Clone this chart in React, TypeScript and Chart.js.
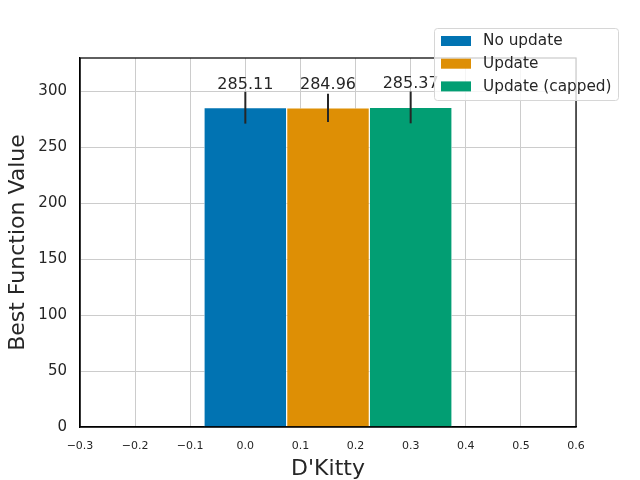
import React, { useEffect, useRef } from "react";
import { Chart, registerables } from "chart.js";

Chart.register(...registerables);

const seriesNames = ["No update", "Update", "Update (capped)"];
const xPositions = [0.0, 0.15, 0.3];
const bestValues = [285.11, 284.96, 285.37];
const stdValues = [14.2, 12.6, 14.2];
const barColors = ["#0173b2", "#de8f05", "#029e73"];
const xTitle = "D'Kitty";
const yTitle = "Best Function Value";

const FONT = "'DejaVu Sans', sans-serif";
const TEXT = "#262626";

const fmtX = (v: number) => {
  if (Math.abs(v) < 1e-9) return "0.0";
  const s = v.toFixed(1);
  return s.replace("-", "\u2212");
};

const overlayPlugin = {
  id: "overlay",
  afterDatasetsDraw(chart: any) {
    const { ctx, chartArea, scales } = chart;
    const xs = scales.x;
    const ys = scales.y;
    ctx.save();
    ctx.strokeStyle = TEXT;
    ctx.lineWidth = 2;
    for (let i = 0; i < bestValues.length; i++) {
      const px = xs.getPixelForValue(xPositions[i]);
      const top = ys.getPixelForValue(bestValues[i] + stdValues[i]);
      const bot = ys.getPixelForValue(bestValues[i] - stdValues[i]);
      ctx.beginPath();
      ctx.moveTo(px, top);
      ctx.lineTo(px, bot);
      ctx.stroke();
    }
    ctx.strokeStyle = "#000000";
    ctx.lineWidth = 1.25;
    ctx.strokeRect(
      chartArea.left,
      chartArea.top,
      chartArea.right - chartArea.left,
      chartArea.bottom - chartArea.top
    );
    ctx.fillStyle = TEXT;
    ctx.font = `16px ${FONT}`;
    ctx.textAlign = "center";
    ctx.textBaseline = "alphabetic";
    for (let i = 0; i < bestValues.length; i++) {
      const px = xs.getPixelForValue(xPositions[i]);
      const py = ys.getPixelForValue(bestValues[i] * 1.06);
      ctx.fillText(bestValues[i].toFixed(2), px, py);
    }
    ctx.restore();
  },
  afterDraw(chart: any) {
    const { ctx } = chart;
    ctx.save();
    const bx = 434.5, by = 28.5, bw = 184, bh = 72, r = 3;
    ctx.beginPath();
    ctx.moveTo(bx + r, by);
    ctx.lineTo(bx + bw - r, by);
    ctx.arcTo(bx + bw, by, bx + bw, by + r, r);
    ctx.lineTo(bx + bw, by + bh - r);
    ctx.arcTo(bx + bw, by + bh, bx + bw - r, by + bh, r);
    ctx.lineTo(bx + r, by + bh);
    ctx.arcTo(bx, by + bh, bx, by + bh - r, r);
    ctx.lineTo(bx, by + r);
    ctx.arcTo(bx, by, bx + r, by, r);
    ctx.closePath();
    ctx.fillStyle = "rgba(255,255,255,0.8)";
    ctx.fill();
    ctx.strokeStyle = "#d6d6d6";
    ctx.lineWidth = 1;
    ctx.stroke();
    ctx.font = `15.3px ${FONT}`;
    ctx.textAlign = "left";
    ctx.textBaseline = "middle";
    for (let i = 0; i < seriesNames.length; i++) {
      const cy = 41 + i * 22.7;
      ctx.fillStyle = barColors[i];
      ctx.fillRect(441, cy - 5, 30, 10);
      ctx.fillStyle = TEXT;
      ctx.fillText(seriesNames[i], 483, cy + 0.5);
    }
    ctx.restore();
  },
};

export default function App() {
  const ref = useRef<HTMLCanvasElement>(null);
  useEffect(() => {
    if (!ref.current) return;
    const chart = new Chart(ref.current, {
      type: "bar",
      data: {
        datasets: seriesNames.map((name, i) => ({
          label: name,
          data: [{ x: xPositions[i], y: bestValues[i] }],
          backgroundColor: barColors[i],
          borderColor: "#ffffff",
          borderWidth: 0.6,
          grouped: false,
          categoryPercentage: 1.5,
          barPercentage: 1,
        })),
      },
      options: {
        animation: false,
        responsive: false,
        maintainAspectRatio: false,
        layout: { padding: { top: 58, right: 64, left: 0, bottom: 0 } },
        plugins: {
          legend: { display: false },
          tooltip: { enabled: false },
        },
        scales: {
          x: {
            type: "linear",
            min: -0.3,
            max: 0.6,
            offset: false,
            afterFit: (s: any) => {
              s.height = 53;
            },
            ticks: {
              stepSize: 0.1,
              padding: 13,
              color: TEXT,
              font: { family: FONT, size: 11 },
              callback: (v: any) => fmtX(Number(v)),
              maxRotation: 0,
              autoSkip: false,
            },
            grid: { color: "#cccccc", lineWidth: 1, drawTicks: false, offset: false },
            border: { display: true, color: "#000000", width: 1.25 },
            title: {
              display: true,
              text: xTitle,
              color: TEXT,
              font: { family: FONT, size: 22 },
              padding: { top: 0, bottom: -2 },
            },
          },
          y: {
            type: "linear",
            min: 0,
            max: 329.5,
            afterFit: (s: any) => {
              s.width = 80;
            },
            ticks: {
              stepSize: 50,
              includeBounds: false,
              padding: 13,
              color: TEXT,
              font: { family: FONT, size: 15 },
            },
            grid: { color: "#cccccc", lineWidth: 1, drawTicks: false },
            border: { display: true, color: "#000000", width: 1.25 },
            title: {
              display: true,
              text: yTitle,
              color: TEXT,
              font: { family: FONT, size: 22 },
              padding: { top: 5, bottom: 4 },
            },
          },
        },
      },
      plugins: [overlayPlugin],
    } as any);
    return () => chart.destroy();
  }, []);
  return (
    <div style={{ position: "fixed", left: 0, top: 0, width: 640, height: 480, background: "#ffffff" }}>
      <canvas ref={ref} width={640} height={480} />
    </div>
  );
}
